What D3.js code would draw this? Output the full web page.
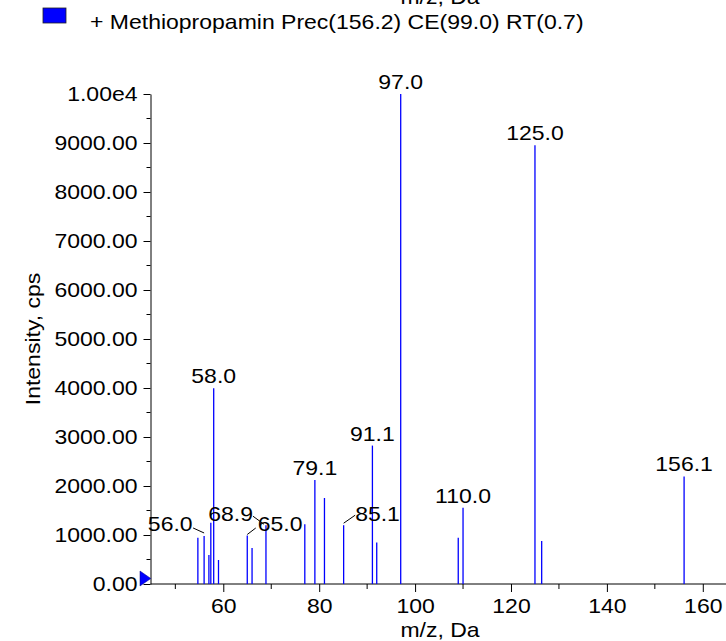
<!DOCTYPE html>
<html>
<head>
<meta charset="utf-8">
<script src="https://cdn.jsdelivr.net/npm/d3@7"></script>
<style>
  html, body { margin: 0; padding: 0; background: #fff; }
  svg { display: block; }
  text { font-family: "Liberation Sans", Arial, sans-serif; fill: #000; }
  .axis path, .axis line { stroke: #000; stroke-width: 1; }
</style>
</head>
<body>
<div id="chart"></div>
<script>
// peak list
const peakMz = [54.7, 56.0, 57.0, 57.4, 58.0, 59.0, 65.0, 66.0, 68.9, 77.0, 79.1,
  81.1, 85.1, 91.1, 92.0, 97.0, 109.0, 110.0, 125.0, 126.4, 156.1];
const peakIntensity = [945, 980, 590, 1250, 3995, 490, 990, 735, 1200, 1220, 2120,
  1755, 1200, 2825, 845, 10000, 945, 1555, 8955, 880, 2195];
const labeledPeaks = ['56.0', '58.0', '65.0', '68.9', '79.1', '85.1', '91.1',
  '97.0', '110.0', '125.0', '156.1'];

// axis ticks
const xTickValues = [60, 80, 100, 120, 140, 160];
const xMinorTicks = [50, 70, 90, 110, 130, 150];
const yTickValues = [0, 1000, 2000, 3000, 4000, 5000, 6000, 7000, 8000, 9000, 10000];
const yTickLabels = ['0.00', '1000.00', '2000.00', '3000.00', '4000.00', '5000.00',
  '6000.00', '7000.00', '8000.00', '9000.00', '1.00e4'];
const yMinorTicks = [500, 1500, 2500, 3500, 4500, 5500, 6500, 7500, 8500, 9500];

const legendText = '+ Methiopropamin Prec(156.2) CE(99.0) RT(0.7)';
const xTitle = 'm/z, Da';
const yTitle = 'Intensity, cps';

//
// Set-up
//
const W = 726, H = 641;
const fontSize = 21;
const widen = 1.095; // glyphs in the original are a little wider than tall
const peakColor = '#0000ff';

const svg = d3.select('#chart').append('svg')
  .attr('width', W)
  .attr('height', H);

const xScale = d3.scaleLinear().domain([44.82, 164.84]).range([150.5, 726]);
const yScale = d3.scaleLinear().domain([0, 10000]).range([584, 94]);

// label placement for crowded peaks (pixel offsets from the peak top)
const labelLayout = {
  '56.0': { dx: -11.5, dy: -5, anchor: 'end', leader: [[-11, -8], [0, -3]] },
  '65.0': { dx: 10.5, dy: -4, anchor: 'start', leader: [[0, -1], [8.5, -7.5]] },
  '68.9': { dx: -13, dy: -4, anchor: 'end', leader: [[-13, -9], [-2, -1]] },
  '85.1': { dx: 11.5, dy: -4.3, anchor: 'start', leader: [[0, -2], [11.5, -10]] }
};

//
// Title remnant + legend
//
svg.append('text')
  .attr('x', 440).attr('y', 3.5)
  .attr('text-anchor', 'middle')
  .style('font-size', `${fontSize}px`)
  .text(xTitle);

svg.append('rect')
  .attr('x', 43).attr('y', 8)
  .attr('width', 23).attr('height', 15)
  .attr('fill', peakColor)
  .attr('stroke', '#222')
  .attr('stroke-width', 0.8);

svg.append('text')
  .attr('x', 90).attr('y', 28.5)
  .style('font-size', `${fontSize}px`)
  .text(legendText);

//
// Axes
//
const xAxis = d3.axisBottom(xScale)
  .tickValues(xTickValues)
  .tickSize(8)
  .tickPadding(6)
  .tickSizeOuter(0)
  .tickFormat(d3.format('d'));

const gx = svg.append('g')
  .attr('class', 'x axis')
  .attr('transform', `translate(0, ${yScale(0)})`)
  .call(xAxis);
gx.select('.domain').attr('d', `M${xScale.range()[0]},0H${W}`);
gx.selectAll('text').style('font-size', `${fontSize}px`);
gx.selectAll('.minor')
  .data(xMinorTicks).enter().append('line')
  .attr('class', 'minor')
  .attr('x1', d => xScale(d)).attr('x2', d => xScale(d))
  .attr('y1', 0).attr('y2', 5)
  .attr('stroke', '#000');

const yAxis = d3.axisLeft(yScale)
  .tickValues(yTickValues)
  .tickSize(7)
  .tickPadding(6)
  .tickSizeOuter(0)
  .tickFormat((d, i) => yTickLabels[i]);

const gy = svg.append('g')
  .attr('class', 'y axis')
  .attr('transform', `translate(${xScale.range()[0]}, 0)`)
  .call(yAxis);
gy.selectAll('text').style('font-size', `${fontSize}px`);
gy.selectAll('.minor')
  .data(yMinorTicks).enter().append('line')
  .attr('class', 'minor')
  .attr('y1', d => yScale(d)).attr('y2', d => yScale(d))
  .attr('x1', 0).attr('x2', -4)
  .attr('stroke', '#000');

// axis titles
svg.append('text')
  .attr('x', 440).attr('y', 637)
  .attr('text-anchor', 'middle')
  .style('font-size', `${fontSize}px`)
  .text(xTitle);

svg.append('text')
  .attr('transform', `translate(40, ${(yScale(0) + yScale(10000)) / 2}) rotate(-90)`)
  .attr('text-anchor', 'middle')
  .style('font-size', `${fontSize}px`)
  .text(yTitle);

//
// Peaks
//
const peaks = peakMz.map((m, i) => ({ mz: m, intensity: peakIntensity[i] }));

svg.append('g').attr('class', 'peaks')
  .selectAll('line')
  .data(peaks).enter().append('line')
  .attr('x1', d => xScale(d.mz)).attr('x2', d => xScale(d.mz))
  .attr('y1', yScale(0)).attr('y2', d => yScale(d.intensity))
  .attr('stroke', peakColor)
  .attr('stroke-width', 1.3);

// origin marker
const ox = xScale.range()[0];
svg.append('path')
  .attr('d', `M${ox - 10.5},${yScale(0) - 13}L${ox - 10.5},${yScale(0) + 2}L${ox + 0.3},${yScale(0) - 5.5}Z`)
  .attr('fill', peakColor)
  .attr('stroke', '#000080')
  .attr('stroke-width', 0.5);

//
// Peak labels
//
const labelGroup = svg.append('g').attr('class', 'labels');
peaks.filter(d => labeledPeaks.includes(d.mz.toFixed(1))).forEach(d => {
  const key = d.mz.toFixed(1);
  const px = xScale(d.mz);
  const py = yScale(d.intensity);
  const lay = labelLayout[key];
  if (lay) {
    labelGroup.append('line')
      .attr('x1', px + lay.leader[0][0]).attr('y1', py + lay.leader[0][1])
      .attr('x2', px + lay.leader[1][0]).attr('y2', py + lay.leader[1][1])
      .attr('stroke', '#000')
      .attr('stroke-width', 1);
    labelGroup.append('text')
      .attr('x', px + lay.dx).attr('y', py + lay.dy)
      .attr('text-anchor', lay.anchor)
      .style('font-size', `${fontSize}px`)
      .text(key);
  } else {
    labelGroup.append('text')
      .attr('x', px).attr('y', py - 5)
      .attr('text-anchor', 'middle')
      .style('font-size', `${fontSize}px`)
      .text(key);
  }
});

// widen every text a bit to match the original glyph proportions
svg.selectAll('text').each(function () {
  const len = this.getComputedTextLength();
  d3.select(this)
    .attr('textLength', len * widen)
    .attr('lengthAdjust', 'spacingAndGlyphs');
});
</script>
</body>
</html>
